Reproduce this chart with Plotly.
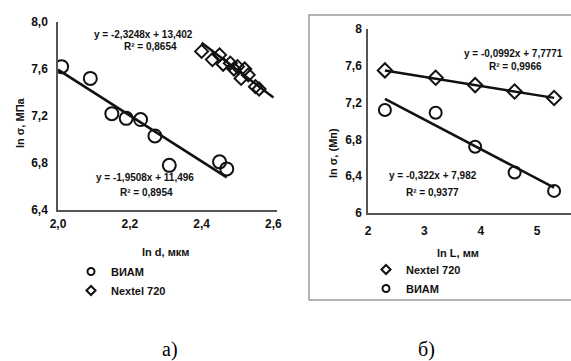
import plotly.graph_objects as go

# ---- data: panel a) ----
viam_d = [2.01, 2.09, 2.15, 2.19, 2.23, 2.27, 2.31, 2.45, 2.47]
viam_s = [7.62, 7.52, 7.22, 7.18, 7.17, 7.03, 6.78, 6.81, 6.75]
nextel_d = [2.40, 2.43, 2.45, 2.46, 2.48, 2.49, 2.50, 2.51, 2.52, 2.53, 2.55, 2.56]
nextel_s = [7.75, 7.68, 7.72, 7.64, 7.65, 7.60, 7.62, 7.52, 7.60, 7.55, 7.45, 7.43]
fit_a_viam = (-1.9508, 11.496)
fit_a_nextel = (-2.3248, 13.402)
fit_a_viam_x = [2.0, 2.47]
fit_a_nextel_x = [2.40, 2.60]

# ---- data: panel b) ----
L = [2.3, 3.2, 3.9, 4.6, 5.3]
nextel_L = [7.55, 7.47, 7.39, 7.32, 7.25]
viam_L = [7.12, 7.09, 6.72, 6.44, 6.24]
fit_b_nextel = (-0.0992, 7.7771)
fit_b_viam = (-0.322, 7.982)
fit_b_x = [2.3, 5.3]

W, H = 571, 361
def px(x): return x / W
def py(y): return 1 - y / H

FONT = "Liberation Sans, Arial, sans-serif"
INK = "#111111"

fig = go.Figure()

def line_pts(fit, xs):
    return xs, [fit[0] * x + fit[1] for x in xs]

circ = dict(symbol="circle-open", size=13, color=INK, line=dict(width=2))
diam = dict(symbol="diamond-open", size=10, color=INK, line=dict(width=2))
circ_leg = dict(symbol="circle-open", size=7, color=INK, line=dict(width=2))
diam_leg = dict(symbol="diamond-open", size=7, color=INK, line=dict(width=2))

# panel a
fig.add_trace(go.Scatter(x=viam_d, y=viam_s, mode="markers", name="ВИАМ", marker=circ,
                         showlegend=False, xaxis="x", yaxis="y"))
fig.add_trace(go.Scatter(x=nextel_d, y=nextel_s, mode="markers", name="Nextel 720", marker=diam,
                         showlegend=False, xaxis="x", yaxis="y"))
xs, ys = line_pts(fit_a_viam, fit_a_viam_x)
fig.add_trace(go.Scatter(x=xs, y=ys, mode="lines", line=dict(color=INK, width=2.5),
                         showlegend=False, xaxis="x", yaxis="y"))
xs, ys = line_pts(fit_a_nextel, fit_a_nextel_x)
fig.add_trace(go.Scatter(x=xs, y=ys, mode="lines", line=dict(color=INK, width=2.5),
                         showlegend=False, xaxis="x", yaxis="y"))
# legend entries panel a
fig.add_trace(go.Scatter(x=[None], y=[None], mode="markers", name="ВИАМ", marker=circ_leg,
                         xaxis="x", yaxis="y", legend="legend"))
fig.add_trace(go.Scatter(x=[None], y=[None], mode="markers", name="Nextel 720", marker=diam_leg,
                         xaxis="x", yaxis="y", legend="legend"))

# panel b
fig.add_trace(go.Scatter(x=L, y=nextel_L, mode="markers", name="Nextel 720",
                         marker=dict(diam, size=11), showlegend=False, xaxis="x2", yaxis="y2"))
fig.add_trace(go.Scatter(x=L, y=viam_L, mode="markers", name="ВИАМ", marker=dict(circ, size=12),
                         showlegend=False, xaxis="x2", yaxis="y2"))
xs, ys = line_pts(fit_b_nextel, fit_b_x)
fig.add_trace(go.Scatter(x=xs, y=ys, mode="lines", line=dict(color=INK, width=2.5),
                         showlegend=False, xaxis="x2", yaxis="y2"))
xs, ys = line_pts(fit_b_viam, fit_b_x)
fig.add_trace(go.Scatter(x=xs, y=ys, mode="lines", line=dict(color=INK, width=2.5),
                         showlegend=False, xaxis="x2", yaxis="y2"))
fig.add_trace(go.Scatter(x=[None], y=[None], mode="markers", name="Nextel 720", marker=diam_leg,
                         xaxis="x2", yaxis="y2", legend="legend2"))
fig.add_trace(go.Scatter(x=[None], y=[None], mode="markers", name="ВИАМ", marker=circ_leg,
                         xaxis="x2", yaxis="y2", legend="legend2"))

tickfont = dict(family=FONT, size=12, color=INK, weight="bold")
axis_common = dict(showgrid=False, zeroline=False, showline=True, linecolor="#555555",
                   linewidth=1.5, ticks="", tickfont=tickfont, automargin=False)

legfont = dict(family=FONT, size=11, color=INK, weight="bold")
fig.update_layout(
    template="none",
    width=W, height=H, margin=dict(l=0, r=0, t=0, b=0, pad=0),
    paper_bgcolor="white", plot_bgcolor="white",
    separators=", ",
    font=dict(family=FONT, color=INK),
    xaxis=dict(axis_common, domain=[px(58), px(277)], range=[2.0, 2.61],
               tickvals=[2.0, 2.2, 2.4, 2.6], tickformat=".1f", anchor="y",
               ticklabelstandoff=2),
    yaxis=dict(axis_common, domain=[py(210), py(22)], range=[6.4, 8.0],
               tickvals=[6.4, 6.8, 7.2, 7.6, 8.0], tickformat=".1f", anchor="x",
               ticklabelstandoff=6),
    xaxis2=dict(axis_common, domain=[px(368), 1.0], range=[2, 5.6],
                tickvals=[2, 3, 4, 5], anchor="y2", ticklabelstandoff=6),
    yaxis2=dict(axis_common, domain=[py(213), py(29)], range=[6, 8],
                tickvals=[6, 6.4, 6.8, 7.2, 7.6, 8], anchor="x2", ticklabelstandoff=2),
    legend=dict(x=px(71), y=py(257), xanchor="left", yanchor="top",
                font=legfont, tracegroupgap=0, itemwidth=30, bgcolor="rgba(0,0,0,0)"),
    legend2=dict(x=px(366), y=py(255), xanchor="left", yanchor="top",
                 font=legfont, tracegroupgap=0, itemwidth=30, bgcolor="rgba(0,0,0,0)"),
    showlegend=True,
)

def note(xp, yp, text, font, angle=0):
    fig.add_annotation(x=px(xp), y=py(yp), xref="paper", yref="paper", text=text,
                       showarrow=False, font=font, textangle=angle,
                       xanchor="center", yanchor="middle")

eqfont = dict(family=FONT, size=10, color=INK, weight="bold")
note(143, 35, "y = -2,3248x + 13,402", eqfont)
note(150, 47, "R² = 0,8654", eqfont)
note(145, 178, "y = -1,9508x + 11,496", eqfont)
note(146, 192, "R² = 0,8954", eqfont)
note(513, 53, "y = -0,0992x + 7,7771", eqfont)
note(515, 66, "R² = 0,9966", eqfont)
note(433, 175, "y = -0,322x + 7,982", eqfont)
note(432, 192, "R² = 0,9377", eqfont)

tfont = dict(family=FONT, size=11, color=INK, weight="bold")
note(165, 252, "ln d, мкм", tfont)
note(20, 123, "ln σ, МПа", tfont, -90)
note(458, 253, "ln L, мм", tfont)
note(333, 153, "ln σ, (Мп)", tfont, -90)

sfont = dict(family="Liberation Serif, Times New Roman, serif", size=20, color="#000000")
note(170, 349, "а)", sfont)
note(426, 349, "б)", sfont)

fig.add_shape(type="rect", xref="paper", yref="paper", x0=px(309), x1=px(580),
              y0=py(300), y1=py(15), line=dict(color="#9a9a9a", width=1.5))

fig.write_html("out.html", config={"displayModeBar": False},
               post_script="document.body.style.margin='0px';")
